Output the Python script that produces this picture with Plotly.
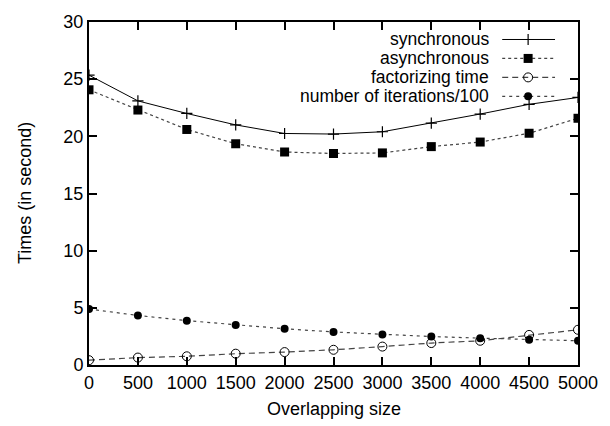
import plotly.graph_objects as go

overlap = [0, 500, 1000, 1500, 2000, 2500, 3000, 3500, 4000, 4500, 5000]
synchronous = [25.35, 23.1, 22.0, 21.0, 20.25, 20.2, 20.4, 21.15, 21.95, 22.8, 23.4]
asynchronous = [24.07, 22.3, 20.6, 19.35, 18.63, 18.5, 18.55, 19.1, 19.5, 20.27, 21.58]
factorizing = [0.42, 0.65, 0.76, 0.99, 1.13, 1.33, 1.61, 1.92, 2.12, 2.63, 3.08]
iterations100 = [4.9, 4.33, 3.88, 3.5, 3.17, 2.89, 2.66, 2.49, 2.35, 2.21, 2.12]

names = ["synchronous", "asynchronous", "factorizing time", "number of iterations/100"]
series = [synchronous, asynchronous, factorizing, iterations100]

FONT = "Liberation Sans, Arial, Helvetica, sans-serif"
styles = [
    dict(line=dict(color="black", width=1, dash="solid"),
         marker=dict(symbol="cross-thin", size=8, line=dict(color="black", width=1.2))),
    dict(line=dict(color="#444", width=1.2, dash="dot"),
         marker=dict(symbol="square", size=9, color="black")),
    dict(line=dict(color="#444", width=1.2, dash="6px,4px"),
         marker=dict(symbol="circle-open", size=9, color="black", line=dict(color="black", width=1))),
    dict(line=dict(color="#444", width=1.2, dash="3px,4px"),
         marker=dict(symbol="circle", size=8, color="black")),
]

fig = go.Figure()
for name, ys, st in zip(names, series, styles):
    fig.add_trace(go.Scatter(x=overlap, y=ys, mode="lines+markers", name=name,
                             line=st["line"], marker=st["marker"], showlegend=False))

# custom gnuplot-style key (text right, sample to the right)
key_rows = [0.949, 0.8938, 0.8385, 0.7833]
key_x0, key_xm, key_x1, key_text_x = 0.845, 0.898, 0.953, 0.82
for name, st, ky in zip(names, styles, key_rows):
    fig.add_trace(go.Scatter(x=[key_x0, key_x1], y=[ky, ky], mode="lines", line=st["line"],
                             xaxis="x2", yaxis="y2", showlegend=False, hoverinfo="skip"))
    fig.add_trace(go.Scatter(x=[key_xm], y=[ky], mode="markers", marker=st["marker"],
                             xaxis="x2", yaxis="y2", showlegend=False, hoverinfo="skip"))
    fig.add_annotation(x=key_text_x, y=ky, xref="paper", yref="paper", text=name,
                       showarrow=False, xanchor="right", yanchor="middle", borderpad=0,
                       font=dict(family=FONT, size=17.5, color="black"))

axis_common = dict(showline=True, linecolor="black", linewidth=2, mirror="ticks",
                   ticks="inside", ticklen=8, tickwidth=2, tickcolor="black",
                   showgrid=False, zeroline=False,
                   tickfont=dict(family=FONT, size=18, color="black"))

fig.update_layout(
    width=610, height=426,
    margin=dict(l=89, r=32, t=12, b=61),
    plot_bgcolor="white", paper_bgcolor="white",
    font=dict(family=FONT, size=18, color="black"),
    xaxis=dict(range=[0, 5000], tickvals=overlap, ticktext=[str(v) for v in overlap], **axis_common),
    yaxis=dict(range=[0, 30], tickvals=[0, 5, 10, 15, 20, 25, 30], **axis_common),
    xaxis2=dict(range=[0, 1], overlaying="x", visible=False, fixedrange=True),
    yaxis2=dict(range=[0, 1], overlaying="y", visible=False, fixedrange=True),
    showlegend=False,
)
fig.add_annotation(x=0.5, y=-0.127, xref="paper", yref="paper", text="Overlapping size",
                   showarrow=False, xanchor="center", yanchor="middle",
                   font=dict(family=FONT, size=18, color="black"))
fig.add_annotation(x=-0.131, y=0.501, xref="paper", yref="paper", text="Times (in second)",
                   showarrow=False, textangle=-90, xanchor="center", yanchor="middle",
                   font=dict(family=FONT, size=18, color="black"))

fig.write_html("out.html", config={"displayModeBar": False},
               post_script="document.body.style.margin='0';document.body.style.overflow='hidden';")
